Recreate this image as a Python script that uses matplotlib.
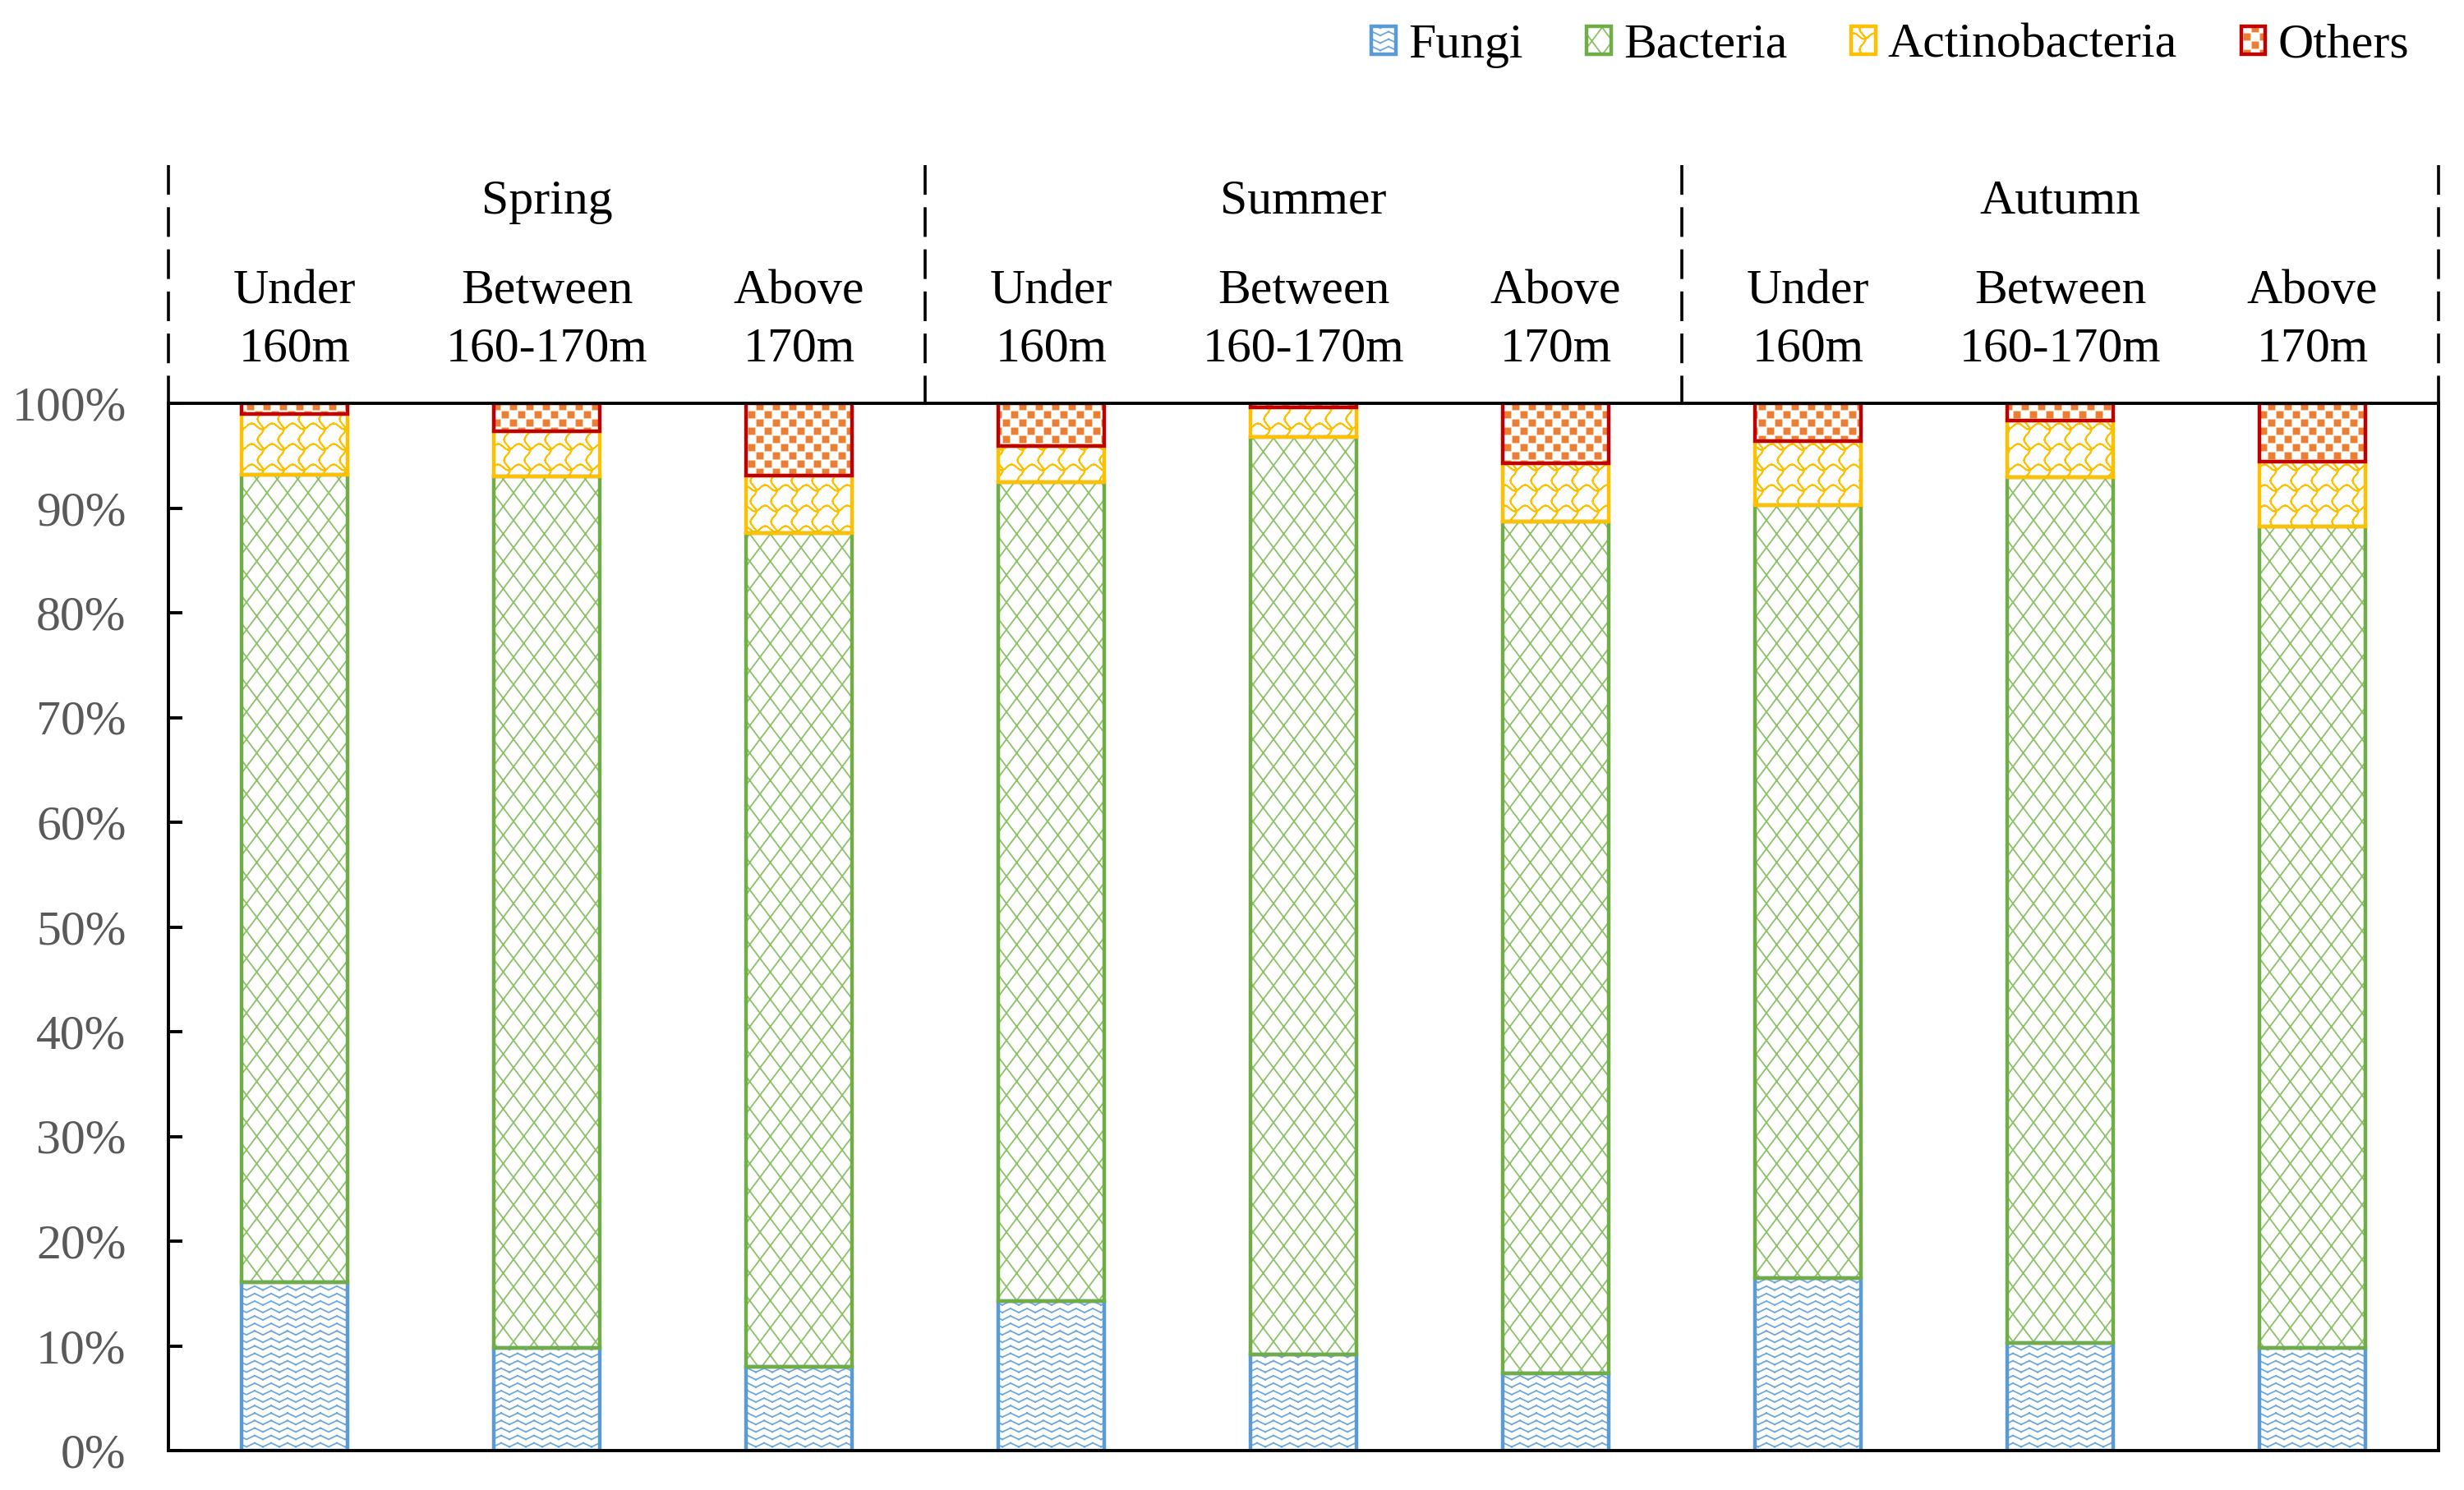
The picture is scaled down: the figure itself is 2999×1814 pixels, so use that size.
import numpy as np
import matplotlib
matplotlib.use("Agg")
import matplotlib.pyplot as plt
import matplotlib.hatch as mhatch
from matplotlib.path import Path
from matplotlib.patches import Patch

# ---------------- data ----------------
seasons = ["Spring", "Summer", "Autumn"]
heights = ["Under\n160m", "Between\n160-170m", "Above\n170m"]
series = ["Fungi", "Bacteria", "Actinobacteria", "Others"]
fungi = [16.1, 9.8, 8.0, 14.3, 9.2, 7.4, 16.5, 10.3, 9.8]
bacteria = [77.1, 83.2, 79.6, 78.2, 87.6, 81.3, 73.8, 82.65, 78.4]
actino = [5.8, 4.35, 5.5, 3.45, 2.8, 5.6, 6.1, 5.4, 6.2]
others = [1.0, 2.65, 6.9, 4.05, 0.4, 5.7, 3.6, 1.65, 5.6]
yticks = [0, 10, 20, 30, 40, 50, 60, 70, 80, 90, 100]
ytick_labels = [f"{v}%" for v in yticks]

# ---------------- custom hatches ----------------
class _Custom(mhatch.HatchPatternBase):
    char = None
    def __init__(self, hatch, density):
        if hatch.count(self.char) > 0:
            v, c = self.build()
        else:
            v, c = [], []
        self._v = np.array(v, float).reshape(-1, 2)
        self._c = np.array(c, dtype=Path.code_type)
        self.num_vertices = len(self._c)

    def set_vertices_and_codes(self, vertices, codes):
        vertices[:] = self._v
        codes[:] = self._c

    @staticmethod
    def segs_from_poly(pts, v, c):
        for p0, p1 in zip(pts[:-1], pts[1:]):
            v += [p0, p1]
            c += [Path.MOVETO, Path.LINETO]


class ZigZag(_Custom):
    char = 'o'
    def build(self):
        v, c = [], []
        a = 0.024
        nrows = 11
        for j in range(nrows):
            y0 = (j + 0.5) / nrows
            xs = np.arange(0, 1.0001, 0.1)
            pts = [(x, y0 + (a if i % 2 else -a)) for i, x in enumerate(xs)]
            self.segs_from_poly(pts, v, c)
        return v, c


class Diamond(_Custom):
    char = '*'
    def build(self):
        v, c = [], []
        for k in range(-4, 9):
            x0 = k * 0.25
            v += [(x0, 0), (x0 + 0.75, 1)]
            c += [Path.MOVETO, Path.LINETO]
            v += [(x0, 0), (x0 - 0.75, 1)]
            c += [Path.MOVETO, Path.LINETO]
        return v, c


class Wave(_Custom):
    char = 'O'
    def build(self):
        v, c = [], []
        t = np.linspace(0, 1, 81)
        a = 0.035
        for i in range(4):
            y0 = i * 0.25 + 0.06
            ys = y0 + a * np.sin(2 * np.pi * t * 4)
            self.segs_from_poly(list(zip(t, ys)), v, c)
        for i in range(4):
            x0 = i * 0.25 + 0.17
            xs = x0 + a * np.sin(2 * np.pi * t * 4 + 1.0)
            self.segs_from_poly(list(zip(xs, t)), v, c)
        return v, c


class Checker(_Custom):
    char = '.'
    def build(self):
        v, c = [], []
        s = 0.07
        for j in range(10):
            for i in range(5):
                cx = i * 0.2 + (j % 2) * 0.1 + 0.05
                cy = j * 0.1 + 0.05
                h = s / 2
                v += [(cx - h, cy - h), (cx + h, cy - h), (cx + h, cy + h),
                      (cx - h, cy + h), (cx - h, cy - h)]
                c += [Path.MOVETO, Path.LINETO, Path.LINETO, Path.LINETO,
                      Path.CLOSEPOLY]
        return v, c


mhatch._hatch_types[:] = [mhatch.HorizontalHatch, mhatch.VerticalHatch,
                          mhatch.NorthEastHatch, mhatch.SouthEastHatch,
                          ZigZag, Diamond, Wave, Checker]

plt.rcParams['font.family'] = ['Liberation Serif', 'DejaVu Serif']
plt.rcParams['hatch.linewidth'] = 1.3

hatches = ['o', '*', 'O', '.']
hatch_colors = ['#6FA8DC', '#8CC168', '#FFC000', '#ED7D31']
edge_colors = ['#5B9BD5', '#70AD47', '#FFC000', '#C00000']
values = [fungi, bacteria, actino, others]

W, H = 2999, 1814
fig = plt.figure(figsize=(W / 100, H / 100), dpi=100)
ax_left, ax_right = 205 / W, 2968 / W
ax_bot, ax_top = 1 - 1766 / H, 1 - 491 / H
ax = fig.add_axes([ax_left, ax_bot, ax_right - ax_left, ax_top - ax_bot])

x = np.arange(len(fungi))
bw = 0.417
bottom = np.zeros(len(x))
handles = []
for vals, hch, hc, ec, name in zip(values, hatches, hatch_colors, edge_colors, series):
    vals = np.array(vals)
    ax.bar(x, vals, bw, bottom=bottom, facecolor='white', edgecolor=hc,
           linewidth=0, hatch=hch, zorder=1)
    ax.bar(x, vals, bw, bottom=bottom, fill=False, edgecolor=ec,
           linewidth=3.2, zorder=1.2)
    bottom += vals
    h1 = Patch(facecolor='white', edgecolor=hc, linewidth=0, hatch=hch)
    h2 = Patch(fill=False, edgecolor=ec, linewidth=3.2)
    handles.append((h1, h2))

ax.set_xlim(-0.5, len(x) - 0.5)
ax.set_ylim(0, 100)
ax.set_xticks([])
ax.set_yticks(yticks)
ax.set_yticklabels(ytick_labels, fontsize=43, color='#595959')
ax.tick_params(axis='y', direction='in', length=12, width=2.8, pad=37, color='black')
for sp in ax.spines.values():
    sp.set_linewidth(2.8)
    sp.set_color('black')

# header: dashed separators and labels
y_top = (1766 - 201) / 12.75
for xb in [-0.5, 2.5, 5.5, 8.5]:
    ax.plot([xb, xb], [y_top, 100], color='black', lw=2.6,
            linestyle=(0, (10.0, 4.2)), clip_on=False, zorder=3)

y_season = (1766 - 260) / 12.75
y_line1 = (1766 - 369) / 12.75
y_line2 = (1766 - 440) / 12.75
for gi, s in enumerate(seasons):
    ax.text(gi * 3 + 1, y_season, s, ha='center', va='baseline', fontsize=43,
            color='black')
    for hi, lab in enumerate(heights):
        l1, l2 = lab.split("\n")
        xc = gi * 3 + hi
        ax.text(xc, y_line1, l1, ha='center', va='baseline', fontsize=43)
        ax.text(xc, y_line2, l2, ha='center', va='baseline', fontsize=43)

leg = fig.legend(handles, series, loc='center right',
                 bbox_to_anchor=(2932 / W, 1 - 56 / H), ncol=4, frameon=False,
                 fontsize=43, handlelength=0.5, handleheight=0.5,
                 handletextpad=0.25, columnspacing=1.3, borderpad=0,
                 borderaxespad=0)

fig.savefig("out.png", dpi=100)
